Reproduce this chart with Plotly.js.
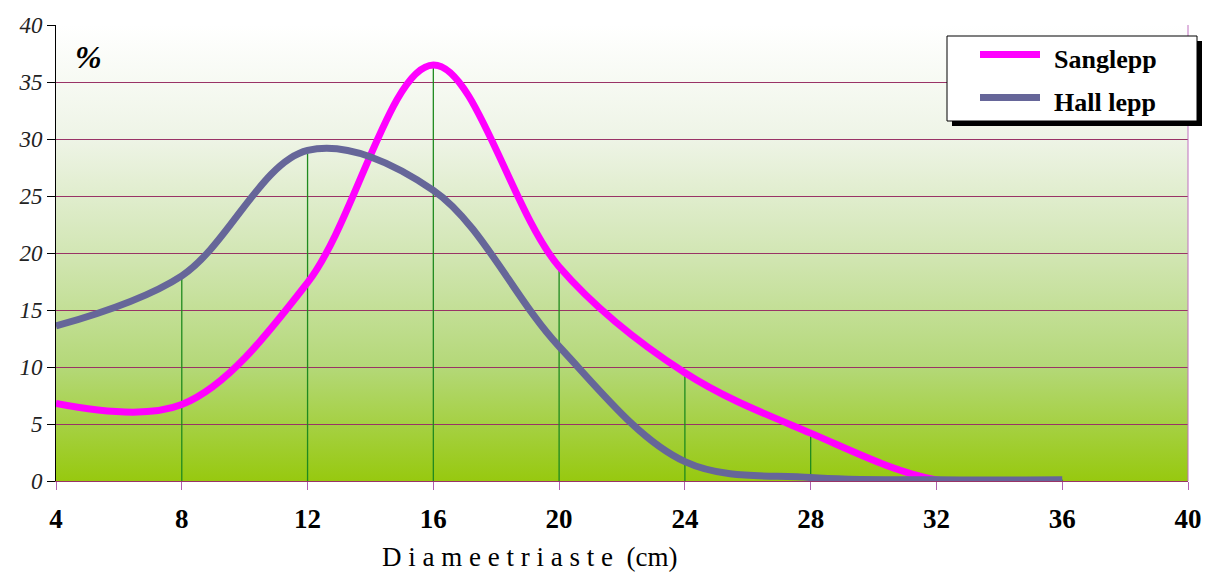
<!DOCTYPE html>
<html>
<head>
<meta charset="utf-8">
<script src="https://cdn.plot.ly/plotly-3.0.1.min.js"></script>
<style>html,body{margin:0;padding:0;background:#fff;}#chart{width:1210px;height:574px;}</style>
</head>
<body>
<div id="chart"></div>
<script>
// Data
const diameters = [4, 8, 12, 16, 20, 24, 28, 32, 36];
const sanglepp  = [6.8, 6.7, 17.4, 36.5, 18.8, 9.5, 4.2, 0.1, 0.0];
const hallLepp  = [13.6, 18.0, 29.0, 25.5, 11.8, 1.7, 0.3, 0.1, 0.1];
const xTicks = [4, 8, 12, 16, 20, 24, 28, 32, 36, 40];
const yTicks = [0, 5, 10, 15, 20, 25, 30, 35, 40];
const seriesNames = ['Sanglepp', 'Hall lepp'];
const seriesColors = ['#ff00ff', '#666699'];

const SERIF = 'Liberation Serif';

// Drop lines from 0 up to the higher series at each diameter
const dropX = [], dropY = [];
diameters.forEach((d, i) => {
  if (i === 0) return;
  dropX.push(d, d, null);
  dropY.push(0, Math.max(sanglepp[i], hallLepp[i]), null);
});

const gradSvg = '<svg xmlns="http://www.w3.org/2000/svg" width="100" height="100" preserveAspectRatio="none">' +
  '<defs><linearGradient id="g" x1="0" y1="0" x2="0" y2="1">' +
  '<stop offset="0" stop-color="#ffffff"/>' +
  '<stop offset="0.25" stop-color="#eef4e6"/>' +
  '<stop offset="0.5" stop-color="#d2e6b4"/>' +
  '<stop offset="0.75" stop-color="#b4d878"/>' +
  '<stop offset="1" stop-color="#97c90f"/>' +
  '</linearGradient></defs><rect width="100" height="100" fill="url(#g)"/></svg>';
const gradUri = 'data:image/svg+xml;base64,' + btoa(gradSvg);

const traces = [
  {x: dropX, y: dropY, mode: 'lines', line: {color: '#1f8a1f', width: 1.3},
   showlegend: false, hoverinfo: 'skip'},
  {x: diameters, y: sanglepp, name: seriesNames[0], mode: 'lines',
   line: {color: seriesColors[0], width: 7, shape: 'spline', smoothing: 1}},
  {x: diameters, y: hallLepp, name: seriesNames[1], mode: 'lines',
   line: {color: seriesColors[1], width: 7, shape: 'spline', smoothing: 1}}
];

// paper coords helpers (plot area 56..1188 x 25..481 px)
const px = v => (v - 56) / 1132;
const py = v => (481 - v) / 456;

const layout = {
  width: 1210, height: 574,
  margin: {l: 56, r: 22, t: 25, b: 93},
  paper_bgcolor: '#ffffff',
  plot_bgcolor: 'rgba(0,0,0,0)',
  font: {family: SERIF, color: '#000'},
  showlegend: false,
  xaxis: {
    range: [4, 40], tickvals: xTicks, ticktext: xTicks.map(String),
    showgrid: false, zeroline: false,
    showline: true, linecolor: '#993366', linewidth: 1,
    ticks: 'outside', ticklen: 8, tickcolor: '#b060b0', tickwidth: 1,
    ticklabelstandoff: 6,
    tickfont: {family: SERIF, size: 27, weight: 'bold', color: '#000'},
    fixedrange: true
  },
  yaxis: {
    range: [0, 40], tickvals: yTicks, ticktext: yTicks.map(String),
    showgrid: true, gridcolor: '#993366', gridwidth: 1,
    zeroline: false,
    showline: true, linecolor: '#000', linewidth: 1,
    ticks: 'outside', ticklen: 8, tickcolor: '#000', tickwidth: 1,
    tickfont: {family: SERIF, size: 23, style: 'italic', color: '#222'},
    fixedrange: true
  },
  images: [{source: gradUri, xref: 'paper', yref: 'paper', x: 0, y: 1,
            sizex: 1, sizey: 1, sizing: 'stretch', layer: 'below',
            xanchor: 'left', yanchor: 'top'}],
  shapes: [
    {type: 'line', xref: 'paper', yref: 'paper', x0: 1, x1: 1, y0: 0, y1: 1,
     line: {color: '#c070c0', width: 1}},
    // legend shadow
    {type: 'rect', xref: 'paper', yref: 'paper', layer: 'above',
     x0: px(952), x1: px(1202), y0: py(126), y1: py(41),
     fillcolor: '#000', line: {width: 0}},
    // legend box
    {type: 'rect', xref: 'paper', yref: 'paper', layer: 'above',
     x0: px(947), x1: px(1197), y0: py(121), y1: py(36),
     fillcolor: '#fff', line: {color: '#000', width: 1}},
    // legend symbols
    {type: 'line', xref: 'paper', yref: 'paper', layer: 'above',
     x0: px(980), x1: px(1040), y0: py(54.5), y1: py(54.5),
     line: {color: seriesColors[0], width: 7}},
    {type: 'line', xref: 'paper', yref: 'paper', layer: 'above',
     x0: px(980), x1: px(1040), y0: py(97.5), y1: py(97.5),
     line: {color: seriesColors[1], width: 7}}
  ],
  annotations: [
    {text: '<b><i>%</i></b>', xref: 'paper', yref: 'paper', x: px(88), y: py(57),
     xanchor: 'center', yanchor: 'middle',
     showarrow: false, font: {family: SERIF, size: 32, color: '#000'}},
    {text: 'D i a m e e t r i a s t e  (cm)', xref: 'paper', yref: 'paper',
     x: px(529), y: py(557), xanchor: 'center', yanchor: 'middle',
     showarrow: false, font: {family: SERIF, size: 27, color: '#000'}},
    {text: '<b>' + seriesNames[0] + '</b>', xref: 'paper', yref: 'paper',
     x: px(1052), y: py(59), xanchor: 'left', yanchor: 'middle', showarrow: false,
     font: {family: SERIF, size: 26, color: '#000'}},
    {text: '<b>' + seriesNames[1] + '</b>', xref: 'paper', yref: 'paper',
     x: px(1052), y: py(102), xanchor: 'left', yanchor: 'middle', showarrow: false,
     font: {family: SERIF, size: 26, color: '#000'}}
  ]
};

Plotly.newPlot('chart', traces, layout, {displayModeBar: false, staticPlot: true});
</script>
</body>
</html>
